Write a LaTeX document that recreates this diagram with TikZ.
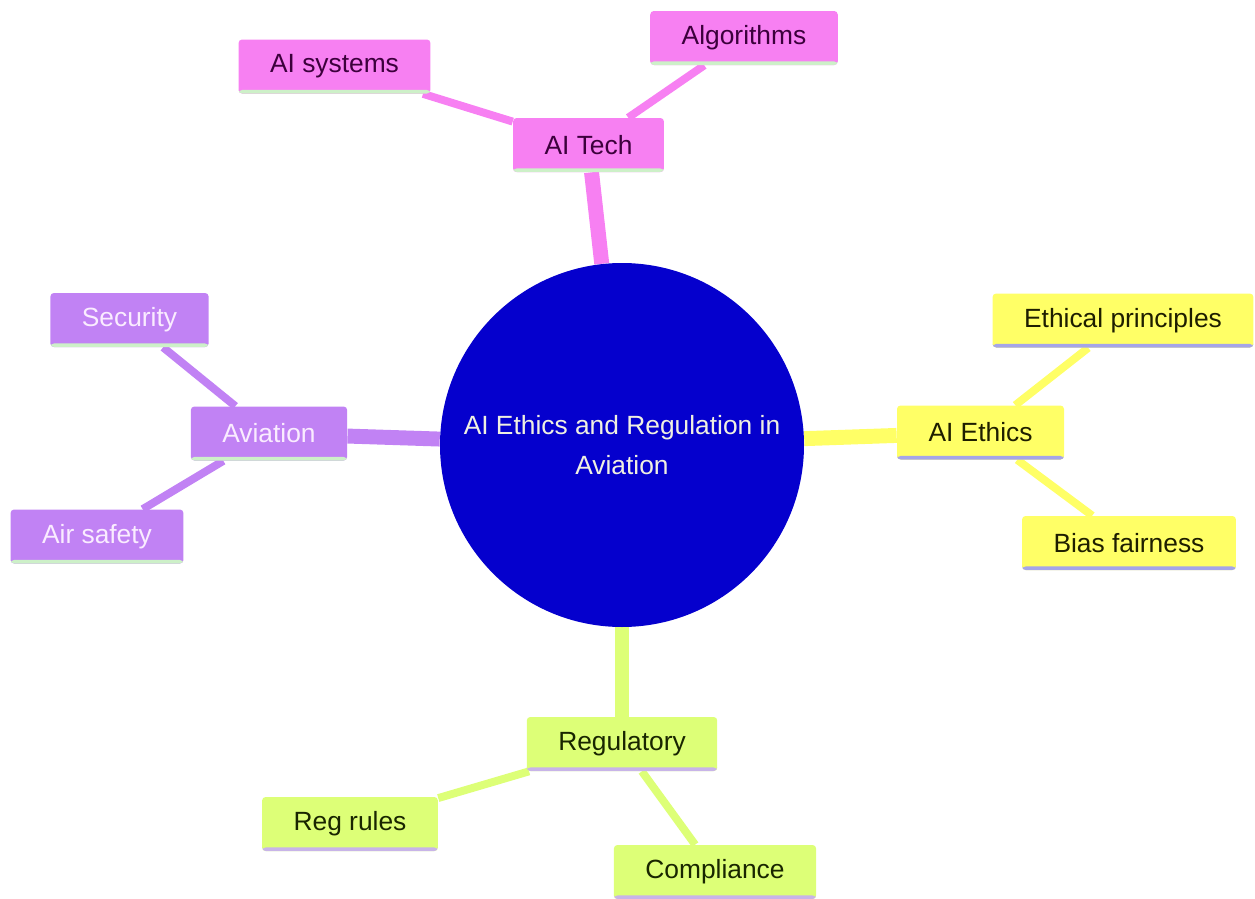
\documentclass[tikz,border=0pt]{standalone}
\usepackage{fontspec}
\setmainfont{Liberation Sans}
\usetikzlibrary{positioning}
\usetikzlibrary{backgrounds}

\definecolor{hubblue}{RGB}{5,0,205}
\definecolor{hubtext}{RGB}{240,240,225}
\definecolor{techpink}{RGB}{247,128,242}
\definecolor{techtext}{RGB}{60,0,60}
\definecolor{avipurple}{RGB}{193,130,244}
\definecolor{avitext}{RGB}{250,236,255}
\definecolor{ethyellow}{RGB}{255,255,102}
\definecolor{ethtext}{RGB}{30,30,0}
\definecolor{reglime}{RGB}{221,255,119}
\definecolor{regtext}{RGB}{25,38,0}
\definecolor{palegreen}{RGB}{205,240,200}
\definecolor{lavblue}{RGB}{165,165,232}
\definecolor{lavlilac}{RGB}{200,180,232}

\begin{document}
\begin{tikzpicture}[node distance=3cm,on grid]

    \tikzset{box/.style={rectangle,rounded corners=2pt,inner xsep=0.63cm,minimum height=1.08cm,font=\fontsize{15}{18}\selectfont}}
    \tikzset{stripe/.style={path picture={\fill[#1] (path picture bounding box.south west) rectangle ([yshift=2pt]path picture bounding box.south east);}}}
    \tikzset{techbox/.style={box,fill=techpink,text=techtext,stripe=palegreen}}
    \tikzset{avibox/.style={box,fill=avipurple,text=avitext,stripe=palegreen}}
    \tikzset{ethbox/.style={box,fill=ethyellow,text=ethtext,stripe=lavblue}}
    \tikzset{regbox/.style={box,fill=reglime,text=regtext,stripe=lavlilac}}
    \tikzset{trunk/.style={draw=#1,line width=8.5pt}}
    \tikzset{twig/.style={draw=#1,line width=4.5pt}}

    \useasboundingbox (0,0) rectangle (25.1,-17.98);

    \node[circle,fill=hubblue,text=hubtext,minimum size=7.28cm,inner sep=0pt,align=center,font=\fontsize{15}{22.7}\selectfont] (hub) at (12.44,-8.9) {AI Ethics and Regulation in\\Aviation};

    \node[techbox] (tech) [above left = 6cm and 0.67cm of hub] {AI Tech};
    \node[techbox] (systems) [above left = 1.57cm and 5.08cm of tech] {AI systems};
    \node[techbox] (algos) [above right = 2.14cm and 3.11cm of tech] {Algorithms};

    \node[avibox] (aviation) [above left = 0.23cm and 7.06cm of hub] {Aviation};
    \node[avibox] (security) [above left = 2.27cm and 2.79cm of aviation] {Security};
    \node[avibox] (airsafety) [below left = 2.06cm and 3.44cm of aviation] {Air safety};

    \node[ethbox] (ethics) [above right = 0.25cm and 7.17cm of hub] {AI Ethics};
    \node[ethbox] (principles) [above right = 2.24cm and 2.85cm of ethics] {Ethical principles};
    \node[ethbox] (bias) [below right = 2.21cm and 2.97cm of ethics] {Bias fairness};

    \node[regbox] (regulatory) [below = 5.98cm of hub] {Regulatory};
    \node[regbox] (regrules) [below left = 1.6cm and 5.44cm of regulatory] {Reg rules};
    \node[regbox] (compliance) [below right = 2.56cm and 1.86cm of regulatory] {Compliance};

    \begin{scope}[on background layer]
    \path
    (hub)
    edge [trunk=techpink] (tech)
    edge [trunk=avipurple] (aviation)
    edge [trunk=ethyellow] (ethics)
    edge [trunk=reglime] (regulatory)
    (tech)
    edge [twig=techpink] (systems)
    edge [twig=techpink] (algos)
    (aviation)
    edge [twig=avipurple] (security)
    edge [twig=avipurple] (airsafety)
    (ethics)
    edge [twig=ethyellow] (principles)
    edge [twig=ethyellow] (bias)
    (regulatory)
    edge [twig=reglime] (regrules)
    edge [twig=reglime] (compliance)
    ;
    \end{scope}
\end{tikzpicture}
\end{document}
